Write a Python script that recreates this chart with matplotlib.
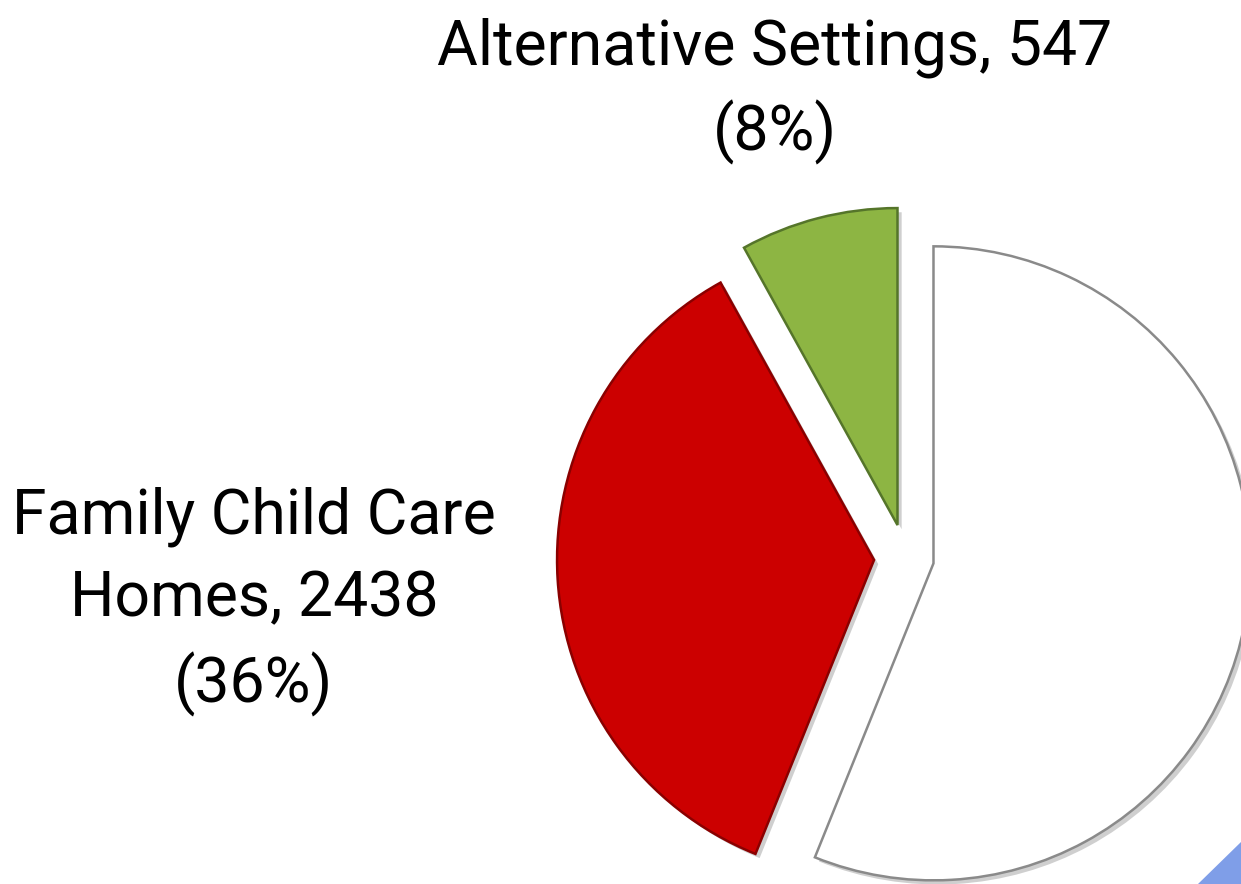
import matplotlib
matplotlib.use("Agg")
import matplotlib.pyplot as plt
import matplotlib.patheffects as pe
from matplotlib.patches import Polygon

# Data
categories = ["Centers", "Family Child Care Homes", "Alternative Settings"]
values = [3815, 2438, 547]
percents = ["56%", "36%", "8%"]
colors = ["#ffffff", "#cc0000", "#8db543"]
edges = ["#8a8a8a", "#8a0000", "#55752a"]

W, H = 1241, 884
fig = plt.figure(figsize=(W / 100, H / 100), dpi=100)
ax = fig.add_axes([0, 0, 1, 1])

# decorative blue corner
ax.add_patch(Polygon([[1198, 0], [W, 0], [W, 42]], closed=True,
                     facecolor="#7f9ee8", edgecolor="none", zorder=0))

R = 317
wedges, _ = ax.pie(values, colors=colors, startangle=90, counterclock=False,
                   center=(906, H - 558), radius=R,
                   explode=[28, 32, 34],
                   wedgeprops=dict(linewidth=1.8), frame=True)
for w, ec in zip(wedges, edges):
    w.set_edgecolor(ec)
    w.set_path_effects([pe.SimplePatchShadow(offset=(3, -3), shadow_rgbFace="#777777", alpha=0.35),
                        pe.Normal()])
ax.set_xlim(0, W)
ax.set_ylim(0, H)
ax.set_aspect("equal")
ax.axis("off")

font = "Roboto"
ax.text(775, H - 91, f"{categories[2]}, {values[2]}\n({percents[2]})",
        ha="center", va="center", fontsize=45, family=font, linespacing=1.43)
ax.text(254, H - 602, "Family Child Care\nHomes, {}\n({})".format(values[1], percents[1]),
        ha="center", va="center", fontsize=45, family=font, linespacing=1.46)

fig.savefig("out.png", dpi=100)
